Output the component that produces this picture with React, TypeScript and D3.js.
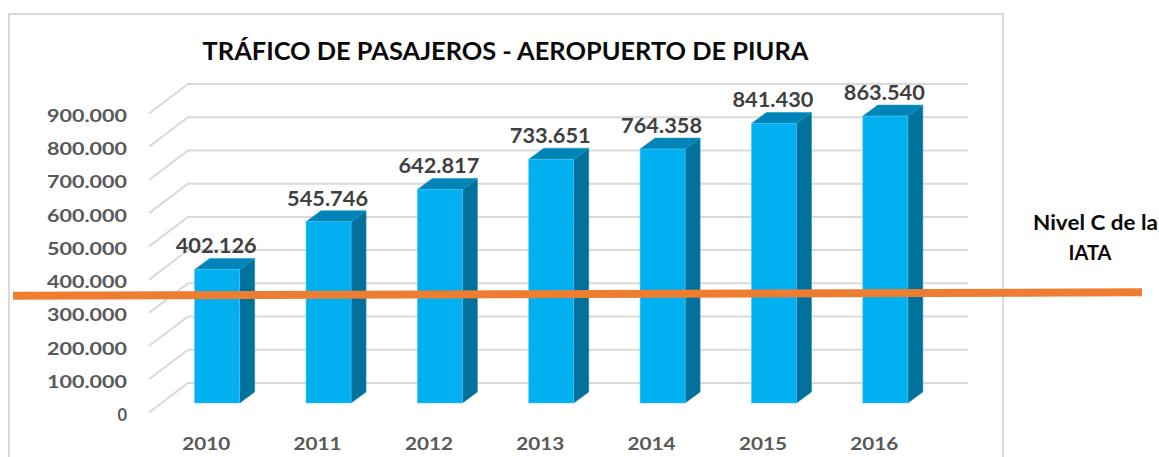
import React from "react";
import * as d3 from "d3";

const years = ["2010", "2011", "2012", "2013", "2014", "2015", "2016"];
const passengers = [402126, 545746, 642817, 733651, 764358, 841430, 863540];
const valueTicks = [0, 100000, 200000, 300000, 400000, 500000, 600000, 700000, 800000, 900000];
const titleText = "TRÁFICO DE PASAJEROS - AEROPUERTO DE PIURA";
const levelLabel = ["Nivel C de la", "IATA"];
const levelValue = 330000;

const W = 1159, H = 457;
const FONT = "Lato, 'Open Sans', sans-serif";
const depthX = 15, depthY = -11;
const wallDX = 39, wallDY = -29.5;
const GRID = "#d9d9d9";

const fmt = (v: number) => d3.format(",")(v).replace(/,/g, ".");

export default function App() {
  const y = d3.scaleLinear().domain([0, 900000]).range([403, 104]);
  const x = d3.scaleBand<string>().domain(years).range([161.5, 941]).paddingInner(0.6).paddingOuter(0.3);
  const bw = 45;
  const barX = (yr: string) => (x(yr) as number) + (x.bandwidth() - bw) / 2;
  const num: React.CSSProperties = { fontFamily: FONT, fontWeight: 700 };

  return (
    <svg width={W} height={H} viewBox={`0 0 ${W} ${H}`} style={{ position: "absolute", left: 0, top: 0, background: "#fff" }}>
      <rect x={9} y={14} width={994} height={H + 20} fill="#fff" stroke={GRID} strokeWidth={2} />
      <text x={505.5} y={60} textAnchor="middle" fontSize={25.4} fontWeight={700} fontFamily={FONT} fill="#0a0a0a">{titleText}</text>

      {valueTicks.map((t) => {
        const front = y(t) + 9.5;
        const label = fmt(t);
        return (
          <g key={t}>
            <polyline
              points={`149,${front} ${149 + wallDX},${front + wallDY} 968,${front + wallDY}`}
              fill="none" stroke={GRID} strokeWidth={2}
            />
            <text
              x={127} y={front + 8.5} textAnchor="end" fontSize={16.5} fill="#595959" style={num}
              textLength={label.length > 1 ? 80 : undefined} lengthAdjust="spacingAndGlyphs"
            >{label}</text>
          </g>
        );
      })}

      {years.map((yr, i) => {
        const bx = barX(yr);
        const top = y(passengers[i]);
        const bottom = y(0);
        return (
          <g key={yr}>
            <path d={`M${bx + bw},${top}L${bx + bw + depthX},${top + depthY}V${bottom + depthY}L${bx + bw},${bottom}Z`} fill="#00719b" stroke="#1c8cb5" strokeWidth={0.6} />
            <path d={`M${bx},${top}L${bx + depthX},${top + depthY}H${bx + bw + depthX}L${bx + bw},${top}Z`} fill="#0084b8" stroke="#1c9ac9" strokeWidth={0.6} />
            <rect x={bx} y={top} width={bw} height={bottom - top} fill="#00b0f0" stroke="#4cc8f4" strokeWidth={0.6} />
            <text x={bx + bw / 2 - 1} y={top - 16} textAnchor="middle" fontSize={20} fill="#404040" style={num} textLength={81} lengthAdjust="spacingAndGlyphs">{fmt(passengers[i])}</text>
            <text x={bx + bw / 2 - 11} y={450} textAnchor="middle" fontSize={16.5} fill="#595959" style={num} textLength={48} lengthAdjust="spacingAndGlyphs">{yr}</text>
          </g>
        );
      })}

      <line x1={13} y1={y(levelValue) + 2.5} x2={1142} y2={y(levelValue) - 1} stroke="#ed7d31" strokeWidth={8} />

      <text x={1095.5} y={230} textAnchor="middle" fontSize={20} fontWeight={700} fontFamily={FONT} fill="#0a0a0a" textLength={125} lengthAdjust="spacingAndGlyphs">{levelLabel[0]}</text>
      <text x={1090} y={260} textAnchor="middle" fontSize={20} fontWeight={700} fontFamily={FONT} fill="#0a0a0a">{levelLabel[1]}</text>
    </svg>
  );
}
